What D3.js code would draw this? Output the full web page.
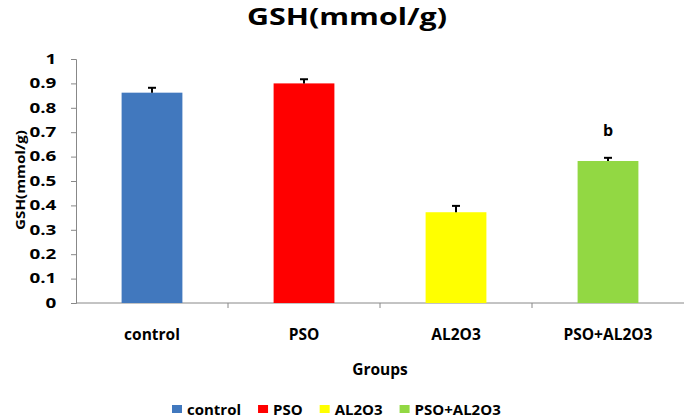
<!DOCTYPE html>
<html>
<head>
<meta charset="utf-8">
<script src="https://cdn.jsdelivr.net/npm/d3@7.9.0/dist/d3.min.js"></script>
<style>
  body { margin: 0; background: #fff; }
  text { font-family: "Open Sans", sans-serif; font-weight: bold; fill: #000; }
</style>
</head>
<body>
<svg id="chart" width="685" height="419"></svg>
<script>
const groups = ['control', 'PSO', 'AL2O3', 'PSO+AL2O3'];
const means = [0.862, 0.900, 0.372, 0.582];
const errors = [0.020, 0.017, 0.026, 0.013];
const colors = ['#4178be', '#ff0000', '#ffff00', '#92d843'];
const labels = ['', '', '', 'b'];
const yTicks = [0, 0.1, 0.2, 0.3, 0.4, 0.5, 0.6, 0.7, 0.8, 0.9, 1];

const svg = d3.select('#chart');
const margin = { left: 76, right: 1, top: 59, bottom: 116 };
const width = 685 - margin.left - margin.right;
const height = 419 - margin.top - margin.bottom;

const g = svg.append('g').attr('transform', `translate(${margin.left},${margin.top})`);

let x = d3.scaleBand().domain(groups).range([0, width]).paddingInner(0.6).paddingOuter(0.3);
let y = d3.scaleLinear().domain([0, 1]).range([height, 0]);

// text in the original picture is stretched sideways, so squeeze text to a width
function stretchText(sel, tx, ty, rot, w) {
  let nat = sel.node().getComputedTextLength();
  sel.attr('transform', `translate(${tx},${ty}) rotate(${rot}) scale(${w / nat},1)`);
}

// y axis
let yAxis = g.append('g')
  .call(d3.axisLeft(y).tickValues(yTicks).tickFormat(d => d === 0 ? '0' : d3.format('.1~f')(d)).tickSize(5).tickPadding(9));
yAxis.selectAll('path, line').attr('stroke', '#888');
yAxis.selectAll('text')
  .style('font-size', '13.5px')
  .attr('transform', 'scale(1.4,1)');

// x axis, ticks at band boundaries
g.append('line')
  .attr('x1', 0).attr('x2', width)
  .attr('y1', height).attr('y2', height)
  .attr('stroke', '#888');
groups.slice(1).forEach((d) => {
  let bx = x(d) - x.step() * x.paddingInner() / 2;
  g.append('line')
    .attr('x1', bx).attr('x2', bx)
    .attr('y1', height).attr('y2', height + 5)
    .attr('stroke', '#888');
});
groups.forEach((d) => {
  g.append('text')
    .attr('x', x(d) + x.bandwidth() / 2)
    .attr('y', height + 37)
    .attr('text-anchor', 'middle')
    .style('font-size', '15.5px')
    .text(d);
});

// bars
g.selectAll('.bar')
  .data(groups)
  .join('rect')
  .attr('x', d => x(d))
  .attr('y', (d, i) => y(means[i]))
  .attr('width', x.bandwidth())
  .attr('height', (d, i) => height - y(means[i]))
  .attr('fill', (d, i) => colors[i]);

// error bars (upper only)
groups.forEach((d, i) => {
  let cx = x(d) + x.bandwidth() / 2;
  g.append('line')
    .attr('x1', cx).attr('x2', cx)
    .attr('y1', y(means[i])).attr('y2', y(means[i] + errors[i]))
    .attr('stroke', '#000').attr('stroke-width', 2);
  g.append('line')
    .attr('x1', cx - 4).attr('x2', cx + 4)
    .attr('y1', y(means[i] + errors[i])).attr('y2', y(means[i] + errors[i]))
    .attr('stroke', '#000').attr('stroke-width', 2);
  if (labels[i]) {
    g.append('text')
      .attr('x', cx)
      .attr('y', y(means[i] + errors[i]) - 22)
      .attr('text-anchor', 'middle')
      .style('font-size', '16px')
      .text(labels[i]);
  }
});

// titles
let title = svg.append('text')
  .attr('text-anchor', 'middle')
  .style('font-size', '24px')
  .text('GSH(mmol/g)');
stretchText(title, 347, 25, 0, 200);

let yTitle = svg.append('text')
  .attr('text-anchor', 'middle')
  .style('font-size', '13px')
  .text('GSH(mmol/g)');
stretchText(yTitle, 25, 180, -90, 100);

svg.append('text')
  .attr('x', 380).attr('y', 375)
  .attr('text-anchor', 'middle')
  .style('font-size', '15.5px')
  .text('Groups');

// legend
let legend = svg.append('g').attr('transform', 'translate(172,415)');
let lx = 0;
groups.forEach((d, i) => {
  let item = legend.append('g').attr('transform', `translate(${lx},0)`);
  item.append('rect').attr('x', 0).attr('y', -10).attr('width', 10).attr('height', 8).attr('fill', colors[i]);
  let t = item.append('text').attr('x', 15).attr('y', 0).style('font-size', '15px').text(d);
  lx += 15 + t.node().getComputedTextLength() + 17;
});
</script>
</body>
</html>
